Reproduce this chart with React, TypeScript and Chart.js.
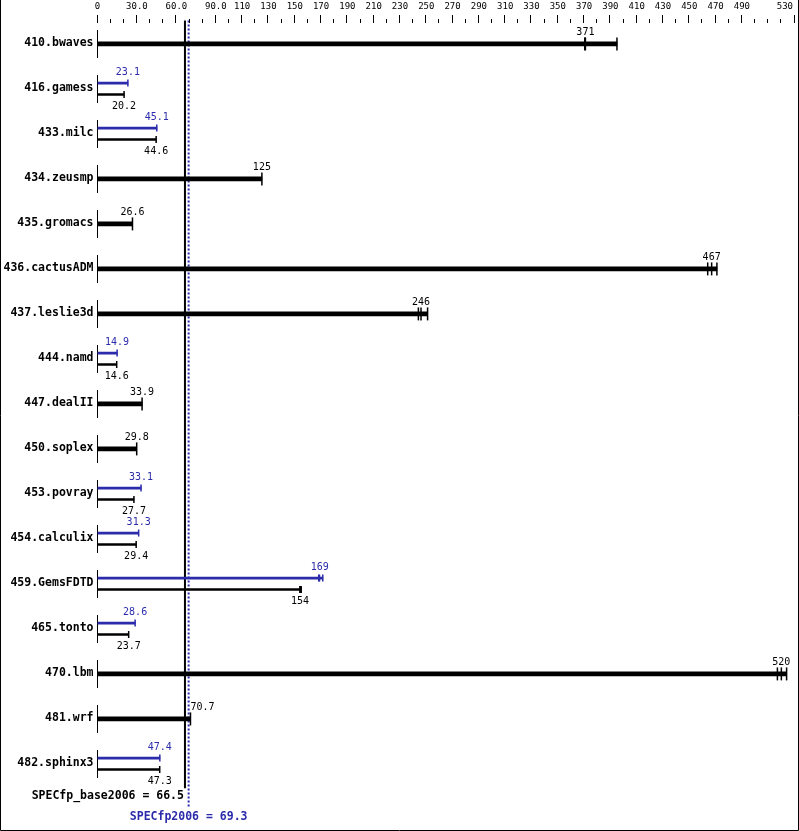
import React, { useEffect, useRef } from "react";
import { Chart, registerables } from "chart.js";
Chart.register(...registerables);

const BENCHMARKS = [
  "410.bwaves", "416.gamess", "433.milc", "434.zeusmp", "435.gromacs",
  "436.cactusADM", "437.leslie3d", "444.namd", "447.dealII", "450.soplex",
  "453.povray", "454.calculix", "459.GemsFDTD", "465.tonto", "470.lbm",
  "481.wrf", "482.sphinx3",
];
const BASE_MEDIAN = [371, 20.2, 44.6, 125, 26.6, 467, 246, 14.6, 33.9, 29.8, 27.7, 29.4, 154, 23.7, 520, 70.7, 47.3];
const PEAK_MEDIAN: (number | null)[] = [null, 23.1, 45.1, null, null, null, null, 14.9, null, null, 33.1, 31.3, 169, 28.6, null, null, 47.4];
const BASE_RUNS: (number[] | null)[] = [
  [370.5, 371, 395], null, null, null, null,
  [464, 467, 471], [244, 246, 251], null, null, null,
  null, null, [153.9, 154.2, 154.9], null, [517, 520, 524],
  null, null,
];
const PEAK_RUNS: (number[] | null)[] = [
  null, null, null, null, null, null, null, null, null, null,
  null, null, [168.2, 168.8, 171.3], null, null, null, null,
];
const BASE_MEAN = 66.5;
const PEAK_MEAN = 69.3;
const BASE_MEAN_LABEL = "SPECfp_base2006 = 66.5";
const PEAK_MEAN_LABEL = "SPECfp2006 = 69.3";
const AXIS_LABEL_VALUES = [0, 30, 60, 90, 110, 130, 150, 170, 190, 210, 230, 250, 270, 290, 310, 330, 350, 370, 390, 410, 430, 450, 470, 490, 530];
const AXIS_LABELS = ["0", "30.0", "60.0", "90.0", "110", "130", "150", "170", "190", "210", "230", "250", "270", "290", "310", "330", "350", "370", "390", "410", "430", "450", "470", "490", "530"];
const AXIS_MAX = 530;
const MINOR_STEP = 10;

const BLUE = "#2b2bab";
const BLACK = "#000000";
const MONO = '"DejaVu Sans Mono", monospace';

const OFF_PEAK = -0.11;
const OFF_BASE = 0.145;
const OFF_SINGLE = 0.02;

export default function App() {
  const ref = useRef<HTMLCanvasElement | null>(null);

  useEffect(() => {
    const canvas = ref.current;
    if (!canvas) return;
    const n = BENCHMARKS.length;
    const hasPeak = (i: number) => PEAK_MEDIAN[i] != null;
    const baseRuns = (i: number) => BASE_RUNS[i] ?? [BASE_MEDIAN[i]];
    const peakRuns = (i: number) => PEAK_RUNS[i] ?? [PEAK_MEDIAN[i] as number];

    const thickBars: any[] = [], thinPeak: any[] = [], thinBase: any[] = [];
    const capsThick: any[] = [], capsPeak: any[] = [], capsBase: any[] = [];
    for (let i = 0; i < n; i++) {
      if (hasPeak(i)) {
        const pr = peakRuns(i), br = baseRuns(i);
        thinPeak.push({ x: Math.max(...pr), y: i + OFF_PEAK });
        thinBase.push({ x: Math.max(...br), y: i + OFF_BASE });
        pr.forEach((v) => capsPeak.push({ x: v, y: i + OFF_PEAK }));
        br.forEach((v) => capsBase.push({ x: v, y: i + OFF_BASE }));
      } else {
        const br = baseRuns(i);
        thickBars.push({ x: Math.max(...br), y: i + OFF_SINGLE });
        br.forEach((v) => capsThick.push({ x: v, y: i + OFF_SINGLE }));
      }
    }

    const overlay = {
      id: "overlay",
      beforeDatasetsDraw(chart: any) {
        const ctx = chart.ctx;
        const xs = chart.scales.x, ys = chart.scales.y;
        ctx.save();
        ctx.strokeStyle = BLACK;
        ctx.lineWidth = 1;
        const x0 = Math.round(xs.getPixelForValue(0)) - 0.5;
        for (let i = 0; i < n; i++) {
          const py = ys.getPixelForValue(i);
          ctx.beginPath();
          ctx.moveTo(x0, py - 13);
          ctx.lineTo(x0, py + 15);
          ctx.stroke();
        }
        ctx.restore();
      },
      afterDatasetsDraw(chart: any) {
        const ctx = chart.ctx;
        const xs = chart.scales.x, ys = chart.scales.y;
        const W = chart.width, H = chart.height;
        ctx.save();
        ctx.strokeStyle = BLACK;
        ctx.lineWidth = 1;
        for (let v = 0; v <= AXIS_MAX; v += MINOR_STEP) {
          const px = Math.round(xs.getPixelForValue(v)) - 0.5;
          const major = AXIS_LABEL_VALUES.includes(v);
          ctx.beginPath();
          ctx.moveTo(px, major ? 15 : 19);
          ctx.lineTo(px, 23);
          ctx.stroke();
        }
        ctx.fillStyle = BLACK;
        ctx.font = `9px ${MONO}`;
        ctx.textAlign = "center";
        ctx.textBaseline = "middle";
        AXIS_LABEL_VALUES.forEach((v, k) => {
          const t = AXIS_LABELS[k];
          const w = ctx.measureText(t).width;
          let px = xs.getPixelForValue(v);
          px = Math.min(px, W - 6 - w / 2);
          ctx.fillText(t, px, 7);
        });

        const baseLinePx = xs.getPixelForValue(BASE_MEAN);
        ctx.font = `10px ${MONO}`;
        const drawVal = (val: number, py: number, color: string) => {
          const t = val.toPrecision(3);
          const w = ctx.measureText(t).width;
          const px = xs.getPixelForValue(val);
          ctx.fillStyle = color;
          if (Math.abs(px - baseLinePx) < w / 2 + 2) {
            ctx.textAlign = "left";
            ctx.fillText(t, px, py);
          } else {
            ctx.textAlign = "center";
            ctx.fillText(t, px, py);
          }
        };
        for (let i = 0; i < n; i++) {
          const py = ys.getPixelForValue(i);
          if (hasPeak(i)) {
            drawVal(PEAK_MEDIAN[i] as number, py - 16, BLUE);
            drawVal(BASE_MEDIAN[i], py + 18.5, BLACK);
          } else {
            drawVal(BASE_MEDIAN[i], py - 11, BLACK);
          }
        }

        const lastPy = ys.getPixelForValue(n - 1);
        ctx.font = `bold 11.5px ${MONO}`;
        ctx.fillStyle = BLACK;
        ctx.textAlign = "right";
        ctx.fillText(BASE_MEAN_LABEL, baseLinePx - 1, lastPy + 33);
        ctx.fillStyle = BLUE;
        ctx.textAlign = "center";
        ctx.fillText(PEAK_MEAN_LABEL, xs.getPixelForValue(PEAK_MEAN), lastPy + 54);

        ctx.strokeStyle = BLACK;
        ctx.lineWidth = 1;
        ctx.beginPath();
        ctx.moveTo(0.5, 0);
        ctx.lineTo(0.5, H - 0.5);
        ctx.lineTo(W - 0.5, H - 0.5);
        ctx.lineTo(W - 0.5, 0);
        ctx.stroke();
        ctx.restore();
      },
    };

    const zeroPad = (s: any) => {
      s.paddingLeft = 0;
      s.paddingRight = 0;
      s.paddingTop = 0;
      s.paddingBottom = 0;
    };

    const chart = new Chart(canvas, {
      type: "bar",
      data: {
        datasets: [
          { type: "bar", data: thickBars, backgroundColor: BLACK, barThickness: 4, grouped: false, order: 1 } as any,
          { type: "bar", data: thinPeak, backgroundColor: BLUE, barThickness: 2, grouped: false, order: 1 } as any,
          { type: "bar", data: thinBase, backgroundColor: BLACK, barThickness: 2, grouped: false, order: 1 } as any,
          { type: "scatter", data: capsThick, pointStyle: "line", pointRotation: 90, pointRadius: 6.5, pointBorderColor: BLACK, pointBorderWidth: 1.5, borderColor: BLACK, clip: false, order: 0 } as any,
          { type: "scatter", data: capsPeak, pointStyle: "line", pointRotation: 90, pointRadius: 3.5, pointBorderColor: BLUE, pointBorderWidth: 1.5, borderColor: BLUE, clip: false, order: 0 } as any,
          { type: "scatter", data: capsBase, pointStyle: "line", pointRotation: 90, pointRadius: 3.5, pointBorderColor: BLACK, pointBorderWidth: 1.5, borderColor: BLACK, clip: false, order: 0 } as any,
          { type: "line", data: [{ x: BASE_MEAN, y: -0.5 }, { x: BASE_MEAN, y: 16.56 }], borderColor: BLACK, borderWidth: 2, pointRadius: 0, clip: false, order: 10 } as any,
          { type: "line", data: [{ x: PEAK_MEAN, y: -0.5 }, { x: PEAK_MEAN, y: 16.98 }], borderColor: BLUE, borderWidth: 2, borderDash: [2, 2], pointRadius: 0, clip: false, order: 10 } as any,
        ],
      },
      options: {
        indexAxis: "y",
        animation: false,
        responsive: false,
        devicePixelRatio: 1,
        layout: { autoPadding: false, padding: { top: 20.5, bottom: 45.5, left: 0, right: 4.5 } },
        plugins: { legend: { display: false }, tooltip: { enabled: false } },
        events: [],
        scales: {
          x: { type: "linear", min: 0, max: AXIS_MAX, display: false, offset: false, afterFit: zeroPad },
          y: {
            type: "linear",
            min: -0.5,
            max: n - 0.5,
            reverse: true,
            offset: false,
            position: "left",
            afterBuildTicks: (s: any) => {
              s.ticks = BENCHMARKS.map((_, i) => ({ value: i }));
            },
            afterFit: (s: any) => {
              s.width = 97.5;
              zeroPad(s);
            },
            ticks: {
              autoSkip: false,
              padding: 4,
              color: BLACK,
              font: { family: "DejaVu Sans Mono", size: 11.5, weight: "bold" },
              callback: (v: any) => BENCHMARKS[v] ?? "",
            },
            grid: { display: false, drawTicks: false, offset: false },
            border: { display: false },
          },
        },
      } as any,
      plugins: [overlay],
    });
    return () => chart.destroy();
  }, []);

  return (
    <div style={{ position: "absolute", left: 0, top: 0, width: 799, height: 831, background: "#fff" }}>
      <canvas ref={ref} width={799} height={831} style={{ display: "block", width: 799, height: 831 }} />
    </div>
  );
}
